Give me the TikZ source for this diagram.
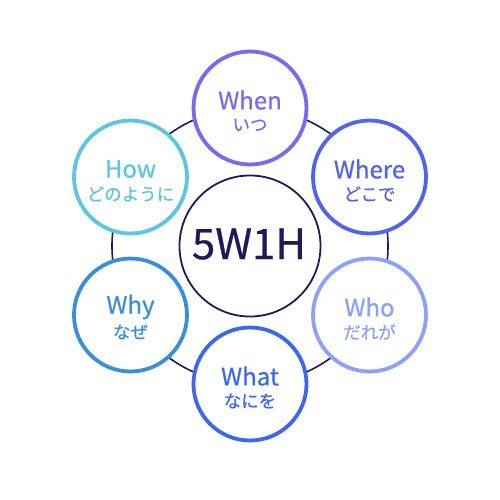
\documentclass[tikz,border=0pt]{standalone}
\usepackage{fontspec}
\usetikzlibrary{calc}
\setmainfont{Noto Sans CJK JP}
\newfontface\medfont{Noto Sans CJK JP}[FakeBold=0.6]
\definecolor{navy}{HTML}{1C1A5A}
\definecolor{cwhen}{HTML}{7B6AF0}
\definecolor{cwhere}{HTML}{5263EE}
\definecolor{cwho}{HTML}{8AA2F8}
\definecolor{cwhat}{HTML}{3D68EC}
\definecolor{cwhy}{HTML}{3A8FD8}
\definecolor{chow}{HTML}{5EC6DE}
\tikzset{
  x=1pt, y=-1pt,
  outer/.style={circle, draw=#1, line width=3.8pt, fill=white, minimum size=113pt, inner sep=0pt},
  en/.style={font=\medfont\fontsize{24}{24}\selectfont},
  jp/.style={font=\medfont\fontsize{17.5}{17.5}\selectfont},
}
\begin{document}
\begin{tikzpicture}
\useasboundingbox (0,0) rectangle (500,500);
\fill[white] (0,0) rectangle (500,500);
\coordinate (c) at (250,246);
\draw[navy, line width=1.6pt] (c) circle[radius=138pt];
\node[circle, draw=navy, line width=1.8pt, fill=white, minimum size=141pt, inner sep=0pt] (core) at (c) {};
\node[text=navy, font=\medfont\fontsize{42}{42}\selectfont] (t) at (249,244) {5W1H};
% outer circles
\foreach \n/\ang/\col in {when/90/cwhen, where/30/cwhere, who/-30/cwho, what/-90/cwhat, why/-150/cwhy, how/150/chow}{
  \node[outer=\col] (\n) at ($(c)+(\ang:138pt)$) {};
}
\foreach \n/\col/\e/\j in {when/cwhen/When/いつ, where/cwhere/Where/どこで, who/cwho/Who/だれが, what/cwhat/What/なにを, why/cwhy/Why/なぜ, how/chow/How/どのように}{
  \node[en, text=\col] (\n-e) at ([yshift=8pt]\n.center) {\e};
  \node[jp, text=\col] (\n-j) at ([yshift=-17pt]\n.center) {\j};
}
\end{tikzpicture}
\end{document}
